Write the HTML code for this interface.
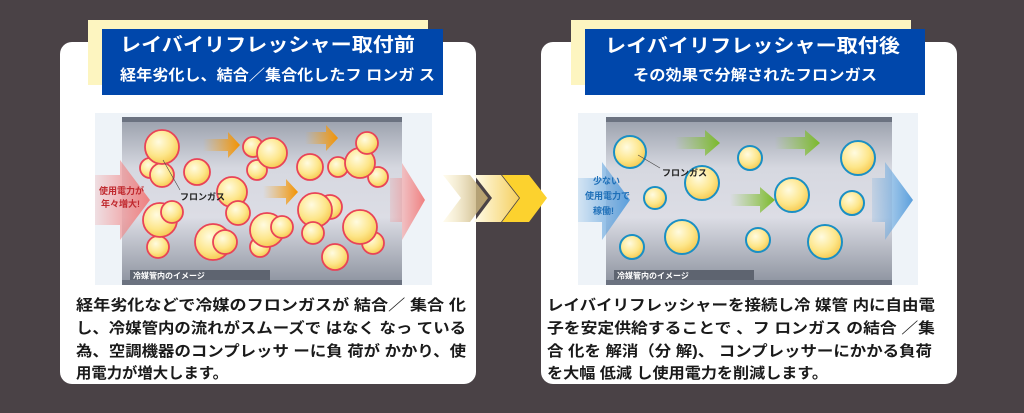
<!DOCTYPE html>
<html><head><meta charset="utf-8"><style>
html,body{margin:0;padding:0;background:#4a4246;}
svg{display:block}
text{font-family:"Liberation Sans","Noto Sans CJK JP",sans-serif;font-weight:bold}
</style></head><body>
<svg width="1024" height="413" viewBox="0 0 1024 413" xmlns="http://www.w3.org/2000/svg">
<defs>
<radialGradient id="by" cx="0.4" cy="0.35" r="0.7"><stop offset="0" stop-color="#fffbe0"/><stop offset="0.6" stop-color="#fde68a"/><stop offset="1" stop-color="#f5c64a"/></radialGradient>
<linearGradient id="pipe" x1="0" y1="0" x2="0" y2="1"><stop offset="0" stop-color="#9aa0ac"/><stop offset="0.3" stop-color="#d6d8e0"/><stop offset="0.6" stop-color="#dcdde5"/><stop offset="1" stop-color="#8e94a0"/></linearGradient>
<linearGradient id="or" x1="0" x2="1"><stop offset="0" stop-color="#f5a623" stop-opacity="0"/><stop offset="1" stop-color="#f39200"/></linearGradient>
<linearGradient id="gr" x1="0" x2="1"><stop offset="0" stop-color="#8cc63f" stop-opacity="0"/><stop offset="1" stop-color="#7ab929"/></linearGradient>
<linearGradient id="pk" x1="0" x2="1"><stop offset="0" stop-color="#f28b8b" stop-opacity="0.2"/><stop offset="1" stop-color="#f08080"/></linearGradient>
<linearGradient id="bl" x1="0" x2="1"><stop offset="0" stop-color="#6aa9e0" stop-opacity="0.2"/><stop offset="1" stop-color="#5b9fdc"/></linearGradient>
<linearGradient id="ch1" x1="0" x2="1"><stop offset="0" stop-color="#fff3c4" stop-opacity="0.3"/><stop offset="1" stop-color="#b8a06a"/></linearGradient>
<linearGradient id="ch2" x1="0" x2="1"><stop offset="0" stop-color="#fffbe8"/><stop offset="1" stop-color="#f5d060"/></linearGradient>
</defs>
<!-- cards -->
<rect x="60" y="42" width="416" height="342" rx="12" fill="#fff"/>
<rect x="541" y="42" width="416" height="342" rx="12" fill="#fff"/>
<!-- header left -->
<rect x="88" y="20" width="340" height="65" fill="#fdf5c0"/>
<rect x="102" y="29" width="341" height="66" fill="#0047ab"/>
<text x="120" y="51" font-size="19" fill="#fff" textLength="295" lengthAdjust="spacingAndGlyphs">レイバイリフレッシャー取付前</text>
<text x="120" y="80" font-size="15" fill="#fff" textLength="315" lengthAdjust="spacingAndGlyphs">経年劣化し、結合／集合化したフ ロンガ ス</text>
<!-- header right -->
<rect x="571" y="20" width="340" height="65" fill="#fdf5c0"/>
<rect x="585" y="29" width="340" height="66" fill="#0047ab"/>
<text x="605" y="52" font-size="19" fill="#fff" textLength="295" lengthAdjust="spacingAndGlyphs">レイバイリフレッシャー取付後</text>
<text x="633" y="80" font-size="15" fill="#fff" textLength="244" lengthAdjust="spacingAndGlyphs">その効果で分解されたフロンガス</text>

<!-- left image -->
<rect x="95" y="113" width="337" height="172" fill="#eef3f8"/>
<rect x="122" y="119" width="280" height="164" fill="url(#pipe)"/>
<rect x="122" y="117" width="280" height="5" fill="#6b7280"/>
<rect x="122" y="280" width="280" height="5" fill="#6b7280"/>
<rect x="130" y="270" width="140" height="10" fill="#5e6470"/>
<text x="133" y="278.5" font-size="8" fill="#fff" font-weight="normal">冷媒管内のイメージ</text>
<polygon points="95,175 120,175 120,160 150,200 120,240 120,225 95,225" fill="url(#pk)"/>
<text x="99" y="194" font-size="9" fill="#c0282d">使用電力が</text>
<text x="101" y="207" font-size="9" fill="#c0282d">年々増大!</text>
<polygon points="390,178 402,178 402,163 425,200 402,240 402,222 390,222" fill="url(#pk)"/>
<g fill="url(#by)" stroke="#e94357" stroke-width="1.8">
<circle cx="150" cy="168" r="10"/><circle cx="162" cy="175" r="12"/><circle cx="162" cy="147" r="17"/>
<circle cx="197" cy="172" r="13"/><circle cx="232" cy="192" r="15"/><circle cx="238" cy="213" r="12"/>
<circle cx="257" cy="170" r="10"/><circle cx="253" cy="147" r="10"/><circle cx="272" cy="153" r="15"/>
<circle cx="310" cy="167" r="13"/><circle cx="338" cy="167" r="10"/><circle cx="378" cy="177" r="10"/><circle cx="360" cy="163" r="15"/><circle cx="367" cy="143" r="11"/>
<circle cx="158" cy="247" r="11"/><circle cx="160" cy="220" r="17"/><circle cx="172" cy="212" r="11"/>
<circle cx="213" cy="242" r="18"/><circle cx="225" cy="242" r="12"/>
<circle cx="260" cy="247" r="10"/><circle cx="267" cy="230" r="17"/><circle cx="282" cy="227" r="11"/>
<circle cx="330" cy="207" r="12"/><circle cx="315" cy="210" r="17"/><circle cx="313" cy="233" r="11"/><circle cx="335" cy="257" r="13"/>
<circle cx="373" cy="243" r="11"/><circle cx="360" cy="227" r="17"/>
</g>
<g fill="url(#or)">
<polygon points="203,139 228,139 228,132 240,145 228,158 228,151 203,151"/>
<polygon points="305,132 326,132 326,125 338,138 326,151 326,144 305,144"/>
<polygon points="263,186 286,186 286,179 298,192 286,205 286,198 263,198"/>
</g>
<line x1="163" y1="160" x2="180" y2="190" stroke="#444" stroke-width="0.6"/>
<text x="180" y="200" font-size="9" fill="#222" font-weight="normal">フロンガス</text>

<!-- chevrons -->
<polygon points="443,175 470,175 488,198 470,222 443,222 461,198" fill="url(#ch1)"/>
<polygon points="474,175 501,175 519,198 501,222 474,222 492,198" fill="url(#ch2)"/>
<polygon points="502,175 529,175 547,198 529,222 502,222 520,198" fill="#fcd22e"/>

<!-- right image -->
<rect x="578" y="113" width="340" height="172" fill="#eef3f8"/>
<rect x="606" y="119" width="286" height="164" fill="url(#pipe)"/>
<rect x="606" y="117" width="286" height="5" fill="#6b7280"/>
<rect x="606" y="280" width="286" height="5" fill="#6b7280"/>
<rect x="614" y="270" width="140" height="10" fill="#5e6470"/>
<text x="617" y="278.5" font-size="8" fill="#fff" font-weight="normal">冷媒管内のイメージ</text>
<polygon points="578,178 602,178 602,162 630,200 602,240 602,222 578,222" fill="url(#bl)"/>
<text x="593" y="184" font-size="9" fill="#1e6fb8">少ない</text>
<text x="585" y="199" font-size="9" fill="#1e6fb8">使用電力で</text>
<text x="593" y="214" font-size="9" fill="#1e6fb8">稼働!</text>
<polygon points="872,178 885,178 885,162 913,200 885,240 885,222 872,222" fill="url(#bl)"/>
<g fill="url(#by)" stroke="#1a8fc4" stroke-width="2">
<circle cx="630" cy="152" r="16"/><circle cx="655" cy="198" r="11"/><circle cx="702" cy="183" r="17"/>
<circle cx="632" cy="247" r="12"/><circle cx="682" cy="237" r="17"/><circle cx="750" cy="158" r="12"/>
<circle cx="792" cy="195" r="17"/><circle cx="758" cy="240" r="12"/><circle cx="825" cy="242" r="17"/>
<circle cx="858" cy="158" r="17"/><circle cx="852" cy="203" r="12"/>
</g>
<g fill="url(#gr)">
<polygon points="675,137 705,137 705,130 720,143 705,156 705,149 675,149"/>
<polygon points="775,137 805,137 805,130 820,143 805,156 805,149 775,149"/>
<polygon points="730,194 760,194 760,187 775,200 760,213 760,206 730,206"/>
</g>
<line x1="638" y1="155" x2="660" y2="168" stroke="#444" stroke-width="0.6"/>
<text x="662" y="176" font-size="9" fill="#222" font-weight="normal">フロンガス</text>

<!-- paragraphs -->
<g font-size="15" fill="#1a1a1a">
<text x="76" y="310" textLength="390" lengthAdjust="spacingAndGlyphs">経年劣化などで冷媒のフロンガスが 結合／ 集合 化</text>
<text x="76" y="333" textLength="390" lengthAdjust="spacingAndGlyphs">し、冷媒管内の流れがスムーズで はなく なっ ている</text>
<text x="76" y="356" textLength="390" lengthAdjust="spacingAndGlyphs">為、空調機器のコンプレッサ ーに負 荷が かかり、使</text>
<text x="76" y="378" textLength="152" lengthAdjust="spacingAndGlyphs">用電力が増大します。</text>
<text x="547" y="310" textLength="388" lengthAdjust="spacingAndGlyphs">レイバイリフレッシャーを接続し冷 媒管 内に自由電</text>
<text x="547" y="333" textLength="388" lengthAdjust="spacingAndGlyphs">子を安定供給することで 、フ ロンガス の結合 ／集</text>
<text x="547" y="356" textLength="385" lengthAdjust="spacingAndGlyphs">合 化を 解消（分 解)、 コンプレッサーにかかる負荷</text>
<text x="547" y="378" textLength="281" lengthAdjust="spacingAndGlyphs">を大幅 低減 し使用電力を削減します。</text>
</g>
</svg>
</body></html>
